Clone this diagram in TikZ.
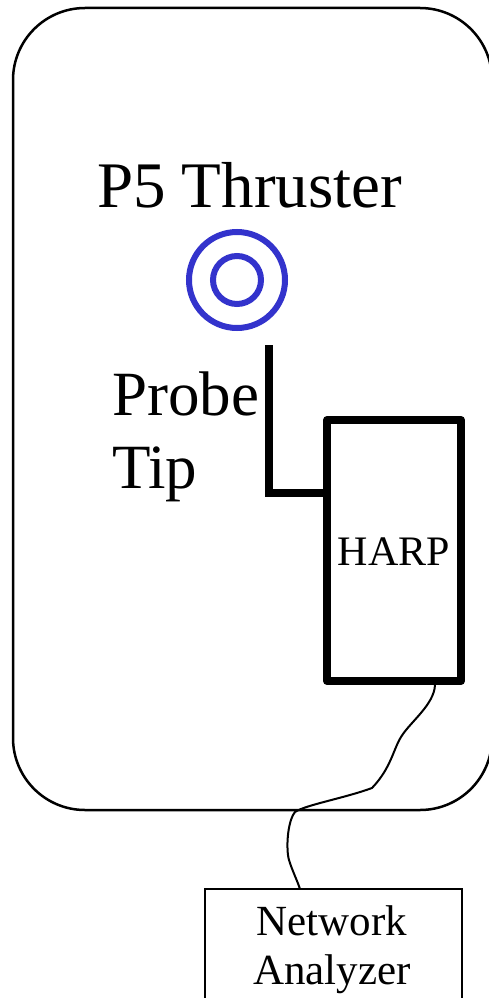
\documentclass[tikz,border=0pt]{standalone}
\usepackage{fontspec}
\setmainfont{Liberation Serif}
\definecolor{thrusterblue}{RGB}{51,51,204}
\tikzset{
  chamber/.style={draw=black, line width=2.5pt, rounded corners=72pt},
  thick box/.style={draw=black, line width=8pt, line join=round, rectangle, inner sep=0pt, outer sep=0pt},
  thin box/.style={draw=black, line width=2pt, rectangle, inner sep=0pt, outer sep=0pt},
  ring/.style={draw=thrusterblue, line width=6pt, circle, inner sep=0pt, outer sep=0pt},
  probe/.style={draw=black, line width=8pt, line join=miter},
  cable/.style={draw=black, line width=2pt, line cap=round},
  label/.style={inner sep=0pt, outer sep=0pt}
}
\begin{document}
\begin{tikzpicture}[x=1pt, y=-1pt]
  \useasboundingbox (0,0) rectangle (489,998);
  \fill[white] (0,0) rectangle (489,998);

  % vacuum chamber outline
  \draw[chamber] (13,8) rectangle (492,810);

  % thruster title and rings
  \node[label, anchor=base west, font=\fontsize{65}{70}\selectfont] (title) at (97,207) {P5 Thruster};
  \node[ring, minimum size=96pt] (outerring) at (237,280) {};
  \node[ring, minimum size=48pt] (innerring) at (237,280) {};

  % probe tip label
  \node[label, anchor=base west, font=\fontsize{63}{68}\selectfont] (probeword) at (112,415) {Probe};
  \node[label, anchor=base west, font=\fontsize{63}{68}\selectfont] (tipword) at (112,488) {Tip};

  % HARP unit
  \node[thick box, minimum width=134pt, minimum height=261pt] (harp) at (394,550.5) {};
  \node[label, anchor=base, font=\fontsize{42}{46}\selectfont] (harpword) at (394,565) {HARP};

  % probe arm into the HARP unit
  \coordinate (probetop) at (269,345);
  \coordinate (probebend) at (269,493);
  \draw[probe] (probetop) -- (probebend) -- (probebend -| harp.west);

  % network analyzer
  \node[thin box, minimum width=257pt, minimum height=130pt, anchor=north] (na) at (333.5,889) {};
  \node[label, anchor=base, font=\fontsize{43}{46}\selectfont] (naline1) at (332,935) {Network};
  \node[label, anchor=base, font=\fontsize{43}{46}\selectfont] (naline2) at (332,984) {Analyzer};

  % coaxial cable from the HARP unit to the analyzer
  \coordinate (cablestart) at (435,685);
  \coordinate (cableend) at (300,889);
  \draw[cable] (cablestart)
     .. controls (434,705) and (410,722) .. (401,737)
     .. controls (393,750) and (391,768) .. (372,788)
     .. controls (345,798) and (305,805) .. (295,812)
     .. controls (287,822) and (286,850) .. (289,860)
     .. controls (292,870) and (297,880) .. (cableend);
\end{tikzpicture}
\end{document}
